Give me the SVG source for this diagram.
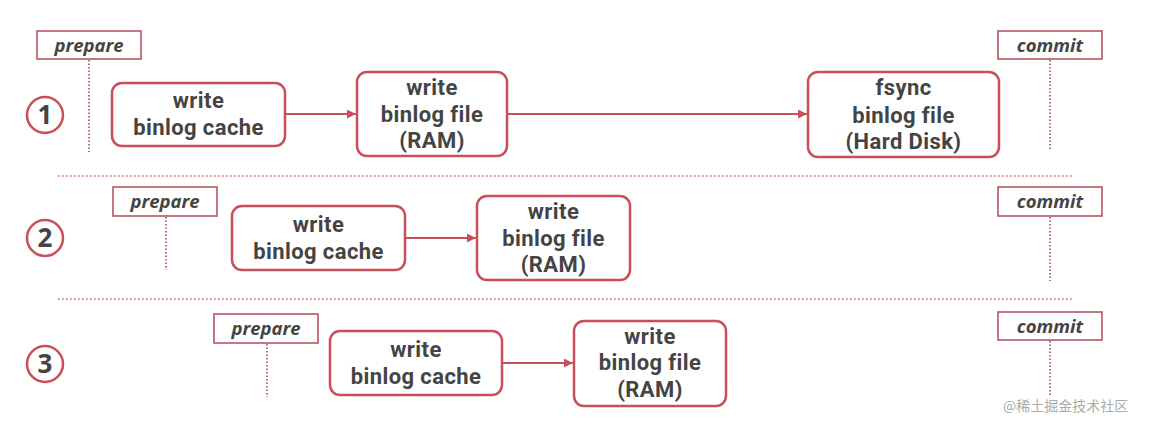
<svg xmlns="http://www.w3.org/2000/svg" width="1150" height="435" viewBox="0 0 1150 435">
<defs>
<marker id="ah" viewBox="0 0 10 10" refX="10" refY="5" markerWidth="9" markerHeight="9" markerUnits="userSpaceOnUse" orient="auto"><path d="M0,0 L10,5 L0,10 z" fill="#c9505a"/></marker>
<style>
.node{fill:#fff;stroke:#c9505a;stroke-width:2.5}
.tag{fill:#fff;stroke:#b5565f;stroke-width:1.6}
.t{font-family:Roboto,"Open Sans",sans-serif;font-weight:bold;font-size:22px;letter-spacing:0.4px;fill:#444;text-anchor:middle}
.it{font-family:"Open Sans","Noto Sans",sans-serif;font-weight:bold;font-style:italic;font-size:18.5px;fill:#444;text-anchor:middle}
.num{font-family:"Open Sans","Noto Sans",sans-serif;font-weight:bold;font-size:26px;fill:#444;text-anchor:middle}
.circ{fill:#fff;stroke:#c9505a;stroke-width:2.5}
.dot{stroke:#a04a68;stroke-width:1.6;stroke-dasharray:1.5 2;fill:none}
.sep{stroke:#c06070;stroke-width:1.6;stroke-dasharray:1.5 2.5;fill:none}
.conn{stroke:#c9505a;stroke-width:2.2;fill:none;marker-end:url(#ah)}
.wm{font-family:"Noto Sans CJK SC",sans-serif;font-size:14px;fill:#aaa}
</style>
</defs>
<rect width="1150" height="435" fill="#fff"/>

<g id="separators">
<line class="sep" x1="58" y1="176" x2="1073" y2="176"/>
<line class="sep" x1="58" y1="299" x2="1073" y2="299"/>
</g>

<g id="timelines">
<line class="dot" x1="89" y1="60" x2="89" y2="152"/>
<line class="dot" x1="1050" y1="60" x2="1050" y2="151"/>
<line class="dot" x1="166" y1="217" x2="166" y2="270"/>
<line class="dot" x1="1050" y1="217" x2="1050" y2="281"/>
<line class="dot" x1="267" y1="344" x2="267" y2="397"/>
<line class="dot" x1="1050" y1="341" x2="1050" y2="397"/>
</g>

<g id="connectors">
<line class="conn" x1="286" y1="114" x2="356" y2="114"/>
<line class="conn" x1="508" y1="114" x2="807" y2="114"/>
<line class="conn" x1="406" y1="238" x2="476" y2="238"/>
<line class="conn" x1="503" y1="363" x2="573" y2="363"/>
</g>

<g id="row1-num"><circle class="circ" cx="45" cy="115" r="18"/><text class="num" x="45" y="124">1</text></g>
<g id="row1-prepare"><rect class="tag" x="37" y="31" width="104" height="28"/><text class="it" x="89" y="52">prepare</text></g>
<g id="row1-cache"><rect class="node" x="112" y="83" width="173" height="63" rx="10"/><text class="t" x="198.5" y="108">write</text><text class="t" x="198.5" y="135">binlog cache</text></g>
<g id="row1-ram"><rect class="node" x="357" y="72" width="150" height="84" rx="10"/><text class="t" x="432" y="95">write</text><text class="t" x="432" y="122">binlog file</text><text class="t" x="432" y="148">(RAM)</text></g>
<g id="row1-disk"><rect class="node" x="808" y="72" width="191" height="85" rx="10"/><text class="t" x="903.5" y="95">fsync</text><text class="t" x="903.5" y="123">binlog file</text><text class="t" x="903.5" y="149">(Hard Disk)</text></g>
<g id="row1-commit"><rect class="tag" x="998" y="31" width="104" height="28"/><text class="it" x="1050" y="52">commit</text></g>

<g id="row2-num"><circle class="circ" cx="45" cy="238" r="18"/><text class="num" x="45" y="247">2</text></g>
<g id="row2-prepare"><rect class="tag" x="113" y="187" width="104" height="29"/><text class="it" x="165" y="208">prepare</text></g>
<g id="row2-cache"><rect class="node" x="232" y="206" width="173" height="64" rx="10"/><text class="t" x="318.5" y="232">write</text><text class="t" x="318.5" y="259">binlog cache</text></g>
<g id="row2-ram"><rect class="node" x="477" y="196" width="153" height="84" rx="10"/><text class="t" x="553.5" y="219">write</text><text class="t" x="553.5" y="246">binlog file</text><text class="t" x="553.5" y="272">(RAM)</text></g>
<g id="row2-commit"><rect class="tag" x="998" y="187" width="104" height="29"/><text class="it" x="1050" y="208">commit</text></g>

<g id="row3-num"><circle class="circ" cx="45" cy="364" r="18"/><text class="num" x="45" y="373">3</text></g>
<g id="row3-prepare"><rect class="tag" x="214" y="314" width="104" height="29"/><text class="it" x="266" y="335">prepare</text></g>
<g id="row3-cache"><rect class="node" x="330" y="331" width="172" height="64" rx="10"/><text class="t" x="416" y="357">write</text><text class="t" x="416" y="384">binlog cache</text></g>
<g id="row3-ram"><rect class="node" x="574" y="321" width="152" height="85" rx="10"/><text class="t" x="650" y="344">write</text><text class="t" x="650" y="370">binlog file</text><text class="t" x="650" y="397">(RAM)</text></g>
<g id="row3-commit"><rect class="tag" x="998" y="312" width="104" height="28"/><text class="it" x="1050" y="333">commit</text></g>

<text class="wm" x="1003" y="411">@稀土掘金技术社区</text>
</svg>
